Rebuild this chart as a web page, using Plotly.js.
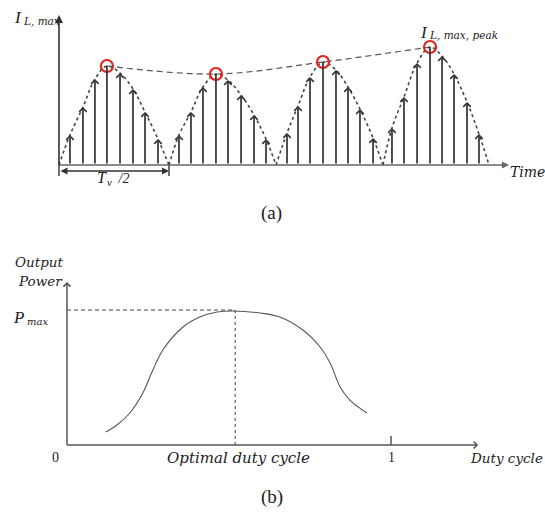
<!DOCTYPE html>
<html><head><meta charset="utf-8">
<script src="https://cdn.plot.ly/plotly-3.0.1.min.js"></script>
<style>html,body{margin:0;padding:0;background:#fff}</style>
</head><body><div id="chart" style="width:545px;height:515px"></div>
<script>
// ---- (a) Inductor current vs time (time in units of Tv/2, current relative) ----
const humpEdges = [0, 1.0, 1.973, 2.945, 3.909];
const stemTime1 = [0.100, 0.218, 0.327, 0.436, 0.555, 0.673, 0.782, 0.900];
const stemCur1  = [0.30, 0.58, 0.86, 0.99, 0.92, 0.76, 0.53, 0.26];
const stemTime2 = [1.091, 1.200, 1.309, 1.427, 1.536, 1.655, 1.773, 1.882];
const stemCur2  = [0.30, 0.53, 0.78, 0.91, 0.85, 0.70, 0.50, 0.26];
const stemTime3 = [2.073, 2.173, 2.282, 2.400, 2.518, 2.627, 2.736, 2.855];
const stemCur3  = [0.32, 0.59, 0.88, 1.03, 0.95, 0.78, 0.56, 0.27];
const stemTime4 = [3.027, 3.136, 3.255, 3.373, 3.482, 3.591, 3.709, 3.818];
const stemCur4  = [0.37, 0.68, 1.02, 1.18, 1.09, 0.91, 0.63, 0.31];
const peakTime = [0.436, 1.427, 2.400, 3.373];
const peakCur  = [0.99, 0.91, 1.03, 1.18];

// ---- (b) Output power vs duty cycle ----
const duty  = [0.120, 0.154, 0.194, 0.234, 0.265, 0.296, 0.358, 0.410, 0.463, 0.513, 0.596, 0.657, 0.728, 0.781, 0.812, 0.843, 0.873, 0.926];
const power = [0.096, 0.148, 0.237, 0.385, 0.556, 0.704, 0.874, 0.948, 0.985, 0.993, 0.978, 0.948, 0.852, 0.726, 0.607, 0.430, 0.333, 0.237];
const optimalDuty = 0.519;
const pMax = 1.0;

const stemTimes = [stemTime1, stemTime2, stemTime3, stemTime4];
const stemCurs = [stemCur1, stemCur2, stemCur3, stemCur4];

const serif = 'Liberation Serif, Times New Roman, serif';
const wide = 'DejaVu Serif, serif';
const ink = '#333';
const txt = '#222';

const traces = [];
// dotted hump envelopes
const hx = [], hy = [];
for (let k = 0; k < 4; k++) {
  hx.push(humpEdges[k]); hy.push(0);
  stemTimes[k].forEach((t, i) => { hx.push(t); hy.push(stemCurs[k][i]); });
  hx.push(humpEdges[k + 1]); hy.push(0);
  hx.push(null); hy.push(null);
}
traces.push({x: hx, y: hy, mode: 'lines', line: {shape: 'spline', dash: 'dot', color: '#444', width: 1.6}, xaxis: 'x', yaxis: 'y', hoverinfo: 'skip'});
// dashed peak envelope
traces.push({x: peakTime, y: peakCur, mode: 'lines', line: {shape: 'spline', dash: '6px,4px', color: '#555', width: 1.2}, xaxis: 'x', yaxis: 'y', hoverinfo: 'skip'});
// red circles at peaks
traces.push({x: peakTime, y: peakCur, mode: 'markers', marker: {symbol: 'circle-open', size: 12, color: '#e3231f', line: {width: 2.2, color: '#e3231f'}}, xaxis: 'x', yaxis: 'y', hoverinfo: 'skip'});
// power curve
traces.push({x: duty, y: power, mode: 'lines', line: {shape: 'spline', color: '#555', width: 1.1}, xaxis: 'x2', yaxis: 'y2', hoverinfo: 'skip'});

const ann = [];
// stems with arrowheads
for (let k = 0; k < 4; k++) {
  const m = Math.max(...stemCurs[k]);
  stemTimes[k].forEach((t, i) => {
    const c = stemCurs[k][i];
    ann.push({xref: 'x', yref: 'y', axref: 'x', ayref: 'y', x: t, y: c, ax: t, ay: 0, text: '',
      showarrow: true, arrowhead: c === m ? 0 : 4, arrowsize: 0.85, arrowwidth: 1.7, arrowcolor: ink, standoff: 0});
  });
}
// axes of (a)
ann.push({xref: 'x', yref: 'y', axref: 'x', ayref: 'y', x: 0, y: 1.5, ax: 0, ay: -0.01, text: '', showarrow: true, arrowhead: 2, arrowsize: 1, arrowwidth: 1.6, arrowcolor: ink});
ann.push({xref: 'x', yref: 'y', axref: 'x', ayref: 'y', x: 4.09, y: 0, ax: -0.01, ay: 0, text: '', showarrow: true, arrowhead: 2, arrowsize: 1, arrowwidth: 1.4, arrowcolor: '#666'});
// Tv/2 span
ann.push({xref: 'x', yref: 'y', axref: 'x', ayref: 'y', x: 1.0, y: -0.06, ax: 0, ay: -0.06, text: '', showarrow: true, arrowhead: 2, startarrowhead: 2, arrowside: 'end+start', arrowsize: 1, arrowwidth: 1.4, arrowcolor: ink});
// labels (a)
function lab(xr, yr, x, y, text, family, size, anchor) {
  ann.push({xref: xr, yref: yr, x: x, y: y, text: text, showarrow: false, xanchor: anchor || 'center', yanchor: 'middle',
    font: {family: family, size: size, color: txt}});
}
lab('x', 'y', -0.368, 1.48, '<i>I</i>', serif, 17);
lab('x', 'y', -0.348, 1.445, '<i>L, max</i>', wide, 10.5, 'left');
lab('x', 'y', 3.318, 1.325, '<i>I</i>', serif, 17);
lab('x', 'y', 3.345, 1.30, '<i>L, max, peak</i>', wide, 10.5, 'left');
lab('x', 'y', 4.255, -0.07, '<i>Time</i>', wide, 14);
lab('x', 'y', 0.391, -0.12, '<i>T</i>', serif, 16);
lab('x', 'y', 0.455, -0.17, '<i>v</i>', serif, 11);
lab('x', 'y', 0.49, -0.13, '<i> /2</i>', serif, 14, 'left');
lab('x', 'y', 1.936, -0.48, '(a)', serif, 19);

// axes of (b)
ann.push({xref: 'x2', yref: 'y2', axref: 'x2', ayref: 'y2', x: 0, y: 1.207, ax: 0, ay: -0.01, text: '', showarrow: true, arrowhead: 4, arrowsize: 0.9, arrowwidth: 1.5, arrowcolor: '#555'});
ann.push({xref: 'x2', yref: 'y2', axref: 'x2', ayref: 'y2', x: 1.269, y: 0, ax: -0.005, ay: 0, text: '', showarrow: true, arrowhead: 4, arrowsize: 0.9, arrowwidth: 1.5, arrowcolor: '#555'});
// labels (b)
lab('x2', 'y2', -0.0864, 1.356, '<i>Output</i>', wide, 13.5);
lab('x2', 'y2', -0.083, 1.215, '<i>Power</i>', wide, 13.5);
lab('x2', 'y2', -0.150, 0.944, '<i>P</i>', serif, 17);
lab('x2', 'y2', -0.130, 0.915, '<i>max</i>', wide, 10, 'left');
lab('x2', 'y2', -0.034, -0.089, '0', serif, 14);
lab('x2', 'y2', 0.528, -0.096, '<i>Optimal duty cycle</i>', wide, 15);
lab('x2', 'y2', 1.0, -0.089, '1', serif, 14);
lab('x2', 'y2', 1.355, -0.096, '<i>Duty cycle</i>', wide, 13.5);
lab('x2', 'y2', 0.633, -0.385, '(b)', serif, 19);

const shapes = [
  // Tv/2 end ticks
  {type: 'line', xref: 'x', yref: 'y', x0: 0, x1: 0, y0: 0.02, y1: -0.11, line: {color: ink, width: 1.4}},
  {type: 'line', xref: 'x', yref: 'y', x0: 1.0, x1: 1.0, y0: 0.02, y1: -0.11, line: {color: ink, width: 1.4}},
  // Pmax dashed, optimal dotted
  {type: 'line', xref: 'x2', yref: 'y2', x0: 0, x1: optimalDuty, y0: pMax, y1: pMax, line: {color: '#444', width: 1, dash: '4px,3px'}},
  {type: 'line', xref: 'x2', yref: 'y2', x0: optimalDuty, x1: optimalDuty, y0: 0, y1: pMax, line: {color: '#444', width: 1, dash: 'dot'}},
  // tick at duty = 1
  {type: 'line', xref: 'x2', yref: 'y2', x0: 1.0, x1: 1.0, y0: 0, y1: 0.067, line: {color: '#555', width: 1.5}}
];

const hid = {visible: false, showgrid: false, zeroline: false, fixedrange: true};
const layout = {
  width: 545, height: 515,
  margin: {l: 0, r: 0, t: 0, b: 0},
  paper_bgcolor: '#fff', plot_bgcolor: 'rgba(0,0,0,0)',
  showlegend: false,
  xaxis: Object.assign({domain: [0, 1], range: [-0.536, 4.418], anchor: 'y'}, hid),
  yaxis: Object.assign({domain: [1 - 230 / 515, 1], range: [-0.65, 1.65], anchor: 'x'}, hid),
  xaxis2: Object.assign({domain: [0, 1], range: [-0.2068, 1.4753], anchor: 'y2'}, hid),
  yaxis2: Object.assign({domain: [0, 1 - 240 / 515], range: [-0.5185, 1.5185], anchor: 'x2'}, hid),
  annotations: ann,
  shapes: shapes
};
Plotly.newPlot('chart', traces, layout, {staticPlot: true, displayModeBar: false});
</script></body></html>
